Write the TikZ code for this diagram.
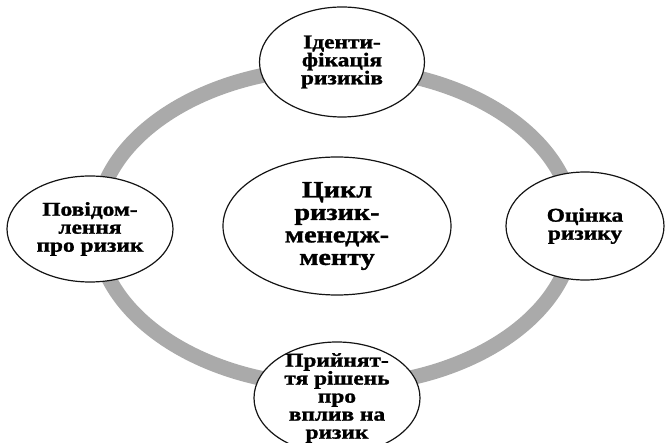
\documentclass[tikz,border=0pt]{standalone}
\usepackage{fontspec}
\setmainfont{Liberation Serif}[FakeStretch=1.2, BoldFeatures={FakeBold=1.3}]
\usetikzlibrary{shapes.geometric,positioning}
\definecolor{ringcolor}{RGB}{170,170,170}
\definecolor{bordercolor}{RGB}{20,20,20}
\tikzset{
    stage/.style={
        ellipse,
        draw=bordercolor,
        line width=1.2pt,
        fill=white,
        inner sep=0pt,
        align=center,
        font=\bfseries\fontsize{19.5}{18}\selectfont
    },
    hubnode/.style={stage, font=\bfseries\fontsize{23.5}{22.5}\selectfont},
    ring/.style={draw=ringcolor, line width=15pt}
}

\begin{document}
\begin{tikzpicture}[x=1pt,y=-1pt]
    \useasboundingbox (0,0) rectangle (665,443);
    \coordinate (hub) at (335,227);

    % Ring
    \draw[ring] (hub) ellipse [x radius=239, y radius=159];

    % Center
    \node[hubnode, minimum width=228, minimum height=138] (cycle) at (337,226) {Цикл\\ризик-\\менедж-\\менту};

    % Stages
    \node[stage, minimum width=165, minimum height=110] (ident) at (342,62) {Іденти-\\фікація\\ризиків};
    \node[stage, minimum width=158, minimum height=108] (assess) at (585,226) {Оцінка\\ризику};
    \node[stage, minimum width=166, minimum height=112, inner ysep=-12pt] (decide) at (337,398) {Прийнят-\\тя рішень\\про\\вплив на\\ризик};
    \node[stage, minimum width=166, minimum height=106] (report) at (90,229) {Повідом-\\лення\\про ризик};
\end{tikzpicture}
\end{document}
